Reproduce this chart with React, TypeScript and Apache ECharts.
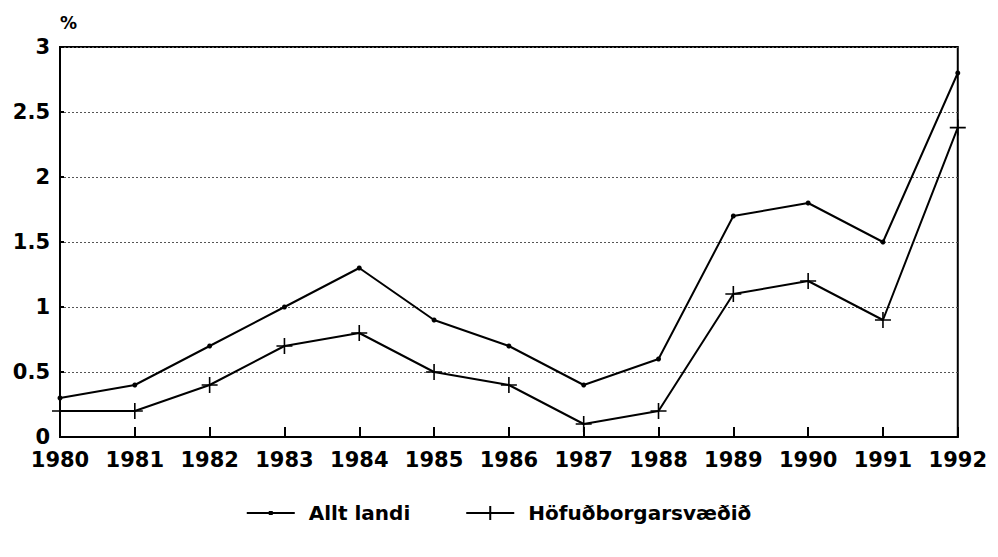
import React, { useEffect, useRef } from "react";
import * as echarts from "echarts";

const years = ["1980", "1981", "1982", "1983", "1984", "1985", "1986", "1987", "1988", "1989", "1990", "1991", "1992"];
const alltLandi = [0.3, 0.4, 0.7, 1.0, 1.3, 0.9, 0.7, 0.4, 0.6, 1.7, 1.8, 1.5, 2.8];
const hofud = [0.2, 0.2, 0.4, 0.7, 0.8, 0.5, 0.4, 0.1, 0.2, 1.1, 1.2, 0.9, 2.38];
const seriesNames = ["Allt landi", "Höfuðborgarsvæðið"];

const FONT = "'DejaVu Sans', Verdana, sans-serif";
const plusPath = "path://M0,9L20,9L20,11L0,11Z M9,0L11,0L11,20L9,20Z";
const legendDot = "path://M0,9L48,9L48,11L0,11Z M22,8L26,8L26,12L22,12Z";
const legendPlus = "path://M0,9L48,9L48,11L0,11Z M23,3L25,3L25,17L23,17Z";

export default function App() {
  const ref = useRef<HTMLDivElement>(null);
  useEffect(() => {
    if (!ref.current) return;
    const chart = echarts.init(ref.current, undefined, { renderer: "svg" });
    chart.setOption({
      animation: false,
      backgroundColor: "#fff",
      textStyle: { fontFamily: FONT },
      grid: { left: 52, right: 25, top: 39, bottom: 112, show: true, borderColor: "#000", borderWidth: 2 },
      legend: {
        bottom: 21,
        left: "center",
        itemWidth: 48,
        itemHeight: 20,
        itemGap: 56,
        textStyle: { fontSize: 20, fontWeight: "bold", color: "#000", fontFamily: FONT, padding: [0, 0, 0, 9] },
        data: [
          { name: seriesNames[0], icon: legendDot },
          { name: seriesNames[1], icon: legendPlus },
        ],
      },
      xAxis: {
        type: "category",
        data: years,
        boundaryGap: false,
        axisLine: { lineStyle: { color: "#000", width: 2 } },
        axisTick: { inside: true, length: 10, lineStyle: { color: "#000", width: 2 } },
        axisLabel: { interval: 0, hideOverlap: false, fontSize: 21, lineHeight: 16, fontWeight: "bold", color: "#000", margin: 15, fontFamily: FONT },
        splitLine: { show: false },
      },
      yAxis: {
        type: "value",
        min: 0,
        max: 3,
        interval: 0.5,
        name: "%",
        nameLocation: "end",
        nameGap: 16,
        nameTextStyle: { fontSize: 17, fontWeight: "bold", color: "#000", align: "left", padding: [0, 0, 0, 0], fontFamily: FONT },
        axisLine: { show: true, lineStyle: { color: "#000", width: 2 } },
        axisTick: { show: true, inside: true, length: 4, lineStyle: { color: "#000", width: 2 } },
        axisLabel: { fontSize: 21, lineHeight: 16, fontWeight: "bold", color: "#000", margin: 10, fontFamily: FONT },
        splitLine: { show: true, lineStyle: { color: "#555", type: [2, 2], width: 1 } },
      },
      series: [
        {
          name: seriesNames[0],
          type: "line",
          data: alltLandi,
          symbol: "circle",
          symbolSize: 5,
          itemStyle: { color: "#000" },
          lineStyle: { color: "#000", width: 2 },
        },
        {
          name: seriesNames[1],
          type: "line",
          data: hofud,
          symbol: plusPath,
          symbolSize: 16,
          itemStyle: { color: "#000" },
          lineStyle: { color: "#000", width: 2 },
        },
      ],
    });
    return () => chart.dispose();
  }, []);
  return <div ref={ref} style={{ width: 982, height: 541 }} />;
}
